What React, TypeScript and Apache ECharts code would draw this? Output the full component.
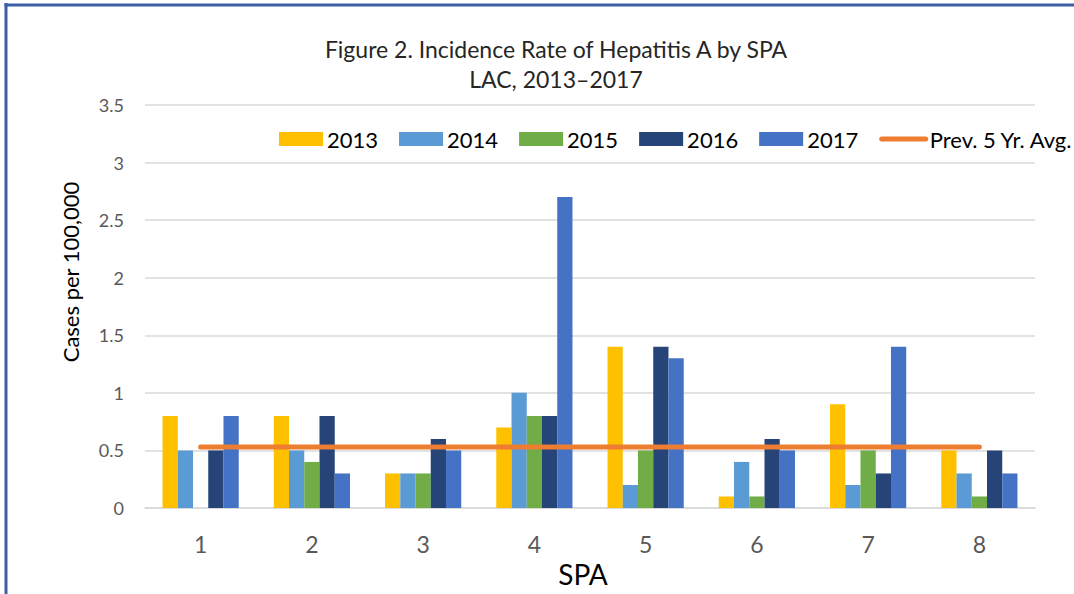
import React, { useEffect, useRef } from "react";
import * as echarts from "echarts";

const categories = ["1", "2", "3", "4", "5", "6", "7", "8"];
const yearNames = ["2013", "2014", "2015", "2016", "2017"];
const v2013 = [0.8, 0.8, 0.3, 0.7, 1.4, 0.1, 0.9, 0.5];
const v2014 = [0.5, 0.5, 0.3, 1.0, 0.2, 0.4, 0.2, 0.3];
const v2015 = [0, 0.4, 0.3, 0.8, 0.5, 0.1, 0.5, 0.1];
const v2016 = [0.5, 0.8, 0.6, 0.8, 1.4, 0.6, 0.3, 0.5];
const v2017 = [0.8, 0.3, 0.5, 2.7, 1.3, 0.5, 1.4, 0.3];
const prevAvg = [0.53, 0.53, 0.53, 0.53, 0.53, 0.53, 0.53, 0.53];
const avgName = "Prev. 5 Yr. Avg.";
const colors = ["#FFC000", "#5B9BD5", "#70AD47", "#264478", "#4472C4"];

const FONT = "Lato, 'Open Sans', sans-serif";

export default function App() {
  const ref = useRef<HTMLDivElement>(null);
  useEffect(() => {
    if (!ref.current) return;
    const chart = echarts.init(ref.current, null, { renderer: "svg" });
    const yearData = [v2013, v2014, v2015, v2016, v2017];
    const barSeries = yearNames.map((name, i) => ({
      name,
      type: "bar",
      data: yearData[i],
      barGap: "0%",
      barCategoryGap: "31.5%",
      itemStyle: { color: colors[i] },
    }));
    chart.setOption({
      animation: false,
      textStyle: { fontFamily: FONT },
      title: {
        text: "Figure 2. Incidence Rate of Hepatitis A by SPA\nLAC, 2013–2017",
        left: 551,
        top: 29,
        textAlign: "center",
        textStyle: {
          fontFamily: FONT,
          fontSize: 23,
          fontWeight: "normal",
          color: "#262626",
          lineHeight: 30,
        },
      },
      legend: {
        left: 274,
        top: 123,
        width: 900,
        itemWidth: 44,
        itemHeight: 14,
        itemGap: 21,
        textStyle: { fontFamily: FONT, fontSize: 22, color: "#000000", padding: [0, 0, 0, -1] },
        data: [
          ...yearNames.map((n) => ({ name: n, icon: "rect" })),
          { name: avgName, itemStyle: { opacity: 0 }, lineStyle: { width: 5, color: "#ED7D31" } },
        ],
      },
      grid: { left: 145, right: 39, top: 105, bottom: 86, outerBoundsMode: "none" },
      xAxis: {
        type: "category",
        data: categories,
        axisLine: { show: true, lineStyle: { color: "#D9D9D9", width: 1.5 } },
        axisTick: { show: false },
        axisLabel: { fontFamily: FONT, fontSize: 23, color: "#595959", margin: 24 },
        name: "SPA",
        nameLocation: "middle",
        nameGap: 42,
        nameTextStyle: { fontFamily: FONT, fontSize: 28, color: "#000000", padding: [0, 14, 0, 0] },
      },
      yAxis: {
        type: "value",
        min: 0,
        max: 3.5,
        interval: 0.5,
        axisLine: { show: false },
        axisTick: { show: false },
        splitLine: { lineStyle: { color: "#D9D9D9", width: 1.5 } },
        axisLabel: { fontFamily: FONT, fontSize: 18, color: "#595959", margin: 21 },
      },
      series: [
        ...barSeries,
        {
          name: avgName,
          type: "line",
          data: prevAvg,
          symbol: "none",
          lineStyle: { color: "#ED7D31", width: 5, cap: "round" },
          itemStyle: { color: "#ED7D31" },
          z: 5,
        },
      ],
      graphic: [
        {
          type: "text",
          x: 70,
          y: 272,
          rotation: Math.PI / 2,
          style: {
            text: "Cases per 100,000",
            fontFamily: FONT,
            fontSize: 22,
            fill: "#000000",
            align: "center",
            verticalAlign: "middle",
          },
        },
        {
          type: "line",
          shape: { x1: 6, y1: 3, x2: 6, y2: 594 },
          style: { stroke: "#3A5FA3", lineWidth: 3 },
        },
        {
          type: "line",
          shape: { x1: 4.5, y1: 5, x2: 1074, y2: 5 },
          style: { stroke: "#3A5FA3", lineWidth: 3 },
        },
      ],
    });
    return () => chart.dispose();
  }, []);
  return (
    <div
      ref={ref}
      style={{ position: "fixed", left: 0, top: 0, width: 1074, height: 594, background: "#ffffff" }}
    />
  );
}
